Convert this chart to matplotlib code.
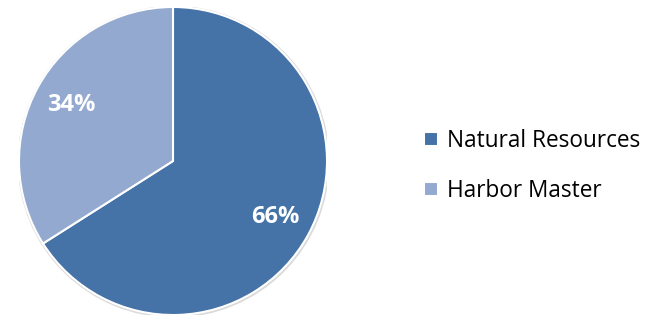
import matplotlib.pyplot as plt
from matplotlib.patches import Circle

# Data
labels = ['Natural Resources', 'Harbor Master']
shares = [66, 34]
colors = ['#4572a7', '#93a9cf']

plt.rcParams['font.family'] = ['Open Sans', 'DejaVu Sans']

fig = plt.figure(figsize=(6.6, 3.2), dpi=100)
# pie centre at about (173, 161) px, radius ~154 px
ax = fig.add_axes([19 / 660, 5 / 320, 308 / 660, 308 / 320])

# faint shadow round the rim
ax.add_patch(Circle((0.004, -0.005), 1.008, color='#dadada', zorder=0))

wedges, texts, autotexts = ax.pie(
    shares, colors=colors, startangle=90, counterclock=False,
    autopct='%d%%', pctdistance=0.755, radius=1.0,
    wedgeprops=dict(edgecolor='white', linewidth=1.5),
    textprops=dict(color='white', fontsize=17, fontweight='bold'))
ax.set_xlim(-1.0, 1.0)
ax.set_ylim(-1.0, 1.0)
ax.set_aspect('equal')
ax.axis('off')

fig.legend(wedges, labels, loc='center left', bbox_to_anchor=(424 / 660, 154 / 320),
           frameon=False, fontsize=16.3, handlelength=0.6, handleheight=0.6,
           handletextpad=0.4, labelspacing=1.17, borderpad=0, borderaxespad=0)

fig.savefig('out.png', dpi=100)
